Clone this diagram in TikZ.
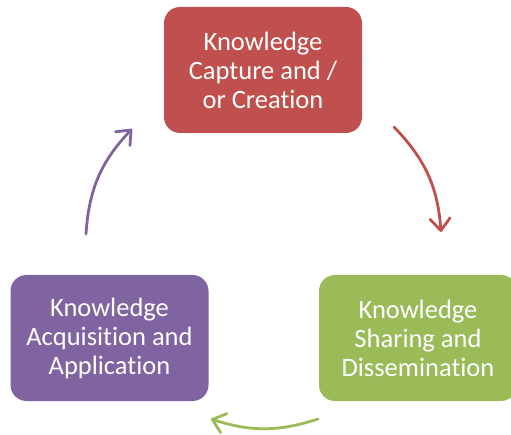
\documentclass[tikz,border=0pt]{standalone}
\usepackage{fontspec}
\setmainfont{Carlito}[Ligatures={NoCommon}, RawFeature={-calt}]
\usetikzlibrary{arrows.meta}

\definecolor{capred}{HTML}{C0504D}
\definecolor{apppurple}{HTML}{8064A2}
\definecolor{sharegreen}{HTML}{9BBB59}

\begin{document}
\begin{tikzpicture}[x=1pt, y=-1pt,
  stage/.style={rounded corners=16pt, minimum width=198pt, minimum height=126pt,
                fill=#1, text=white, align=center, inner sep=0pt,
                font=\fontsize{26.5}{29}\selectfont},
  cyc/.style={draw=#1, line width=2.8pt, line cap=round,
              -{Straight Barb[length=12pt, width=20pt, round]}},
]
\clip (0,0) rectangle (511,435);

% --- Stages ---
\node[stage=capred] (capture) at (263,70) {Knowledge\\Capture and /\\or Creation};
\node[stage=sharegreen] (sharing) at (418,338) {Knowledge\\Sharing and\\Dissemination};
\node[stage=apppurple] (acquis) at (109.5,338) {Knowledge\\Acquisition and\\Application};

% --- Cycle arrows ---
\coordinate (capOut) at (394,127);
\coordinate (shareIn) at (441,232);
\coordinate (shareOut) at (318,419);
\coordinate (acqIn) at (211,419);
\coordinate (acqOut) at (86,234);
\coordinate (capIn) at (132,129);

\draw[cyc=capred] (capOut) to[bend left=20] (shareIn);
\draw[cyc=sharegreen] (shareOut) to[bend left=18] (acqIn);
\draw[cyc=apppurple] (acqOut) to[bend left=20] (capIn);

\end{tikzpicture}
\end{document}
